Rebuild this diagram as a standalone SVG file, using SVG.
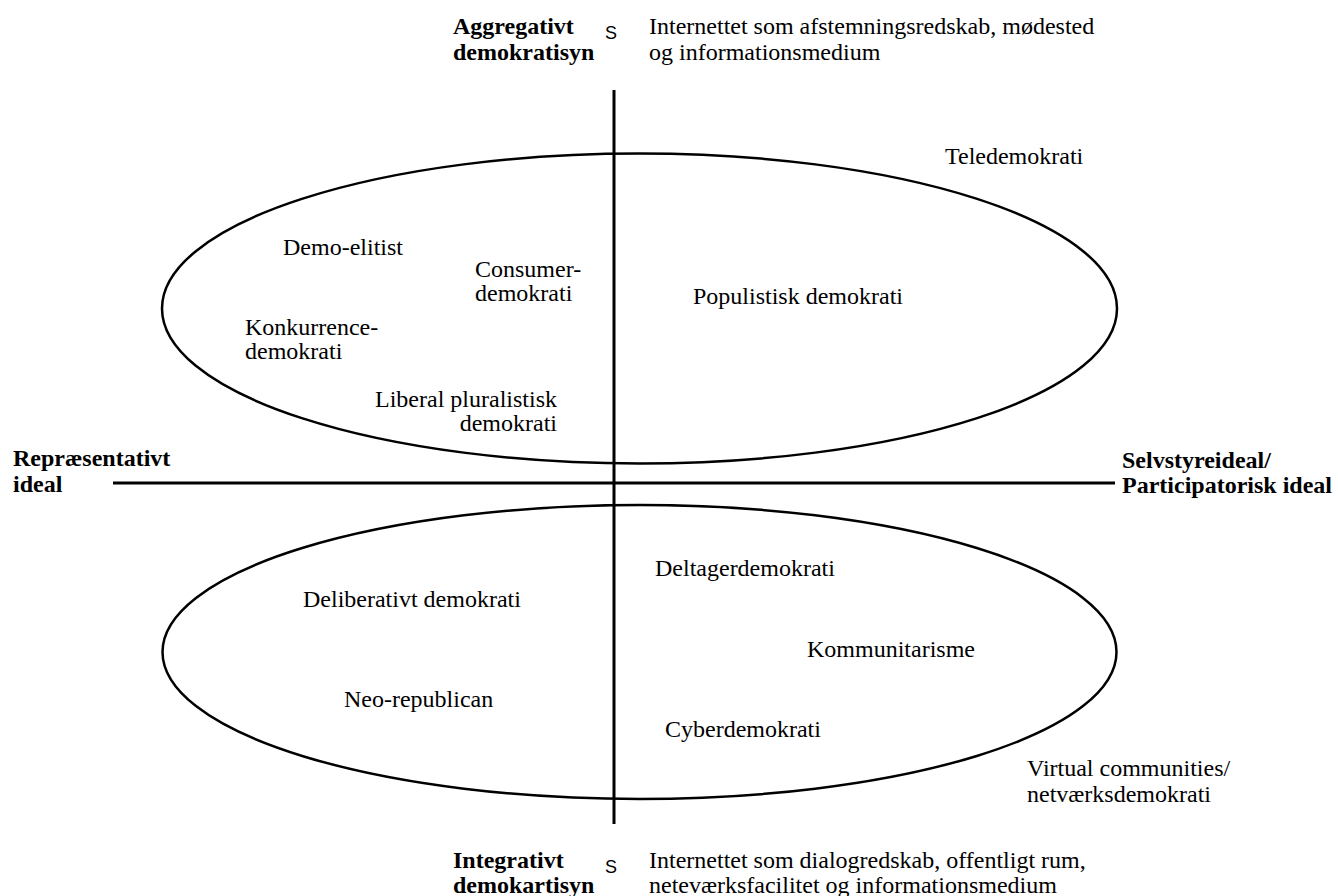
<svg xmlns="http://www.w3.org/2000/svg" width="1338" height="896" viewBox="0 0 1338 896">
<style>
.t{font-family:"Liberation Serif","Times New Roman",serif;font-size:24px;fill:#000}
.b{font-family:"Liberation Serif","Times New Roman",serif;font-size:24px;font-weight:bold;fill:#000}
.s{font-family:"Liberation Sans",Arial,sans-serif;font-size:18px;fill:#000}
.el{fill:none;stroke:#000;stroke-width:2.5}
.ax{stroke:#000;stroke-width:3;fill:none}
</style>
<rect width="1338" height="896" fill="#fff"/>
<g id="ellipse-top"><ellipse class="el" cx="639.5" cy="308.5" rx="477.5" ry="155"/></g>
<g id="ellipse-bottom"><ellipse class="el" cx="639.5" cy="652" rx="477" ry="147"/></g>
<g id="connectors">
<line class="ax" x1="614" y1="90" x2="614" y2="824"/>
<line class="ax" x1="113" y1="483" x2="1115" y2="483"/>
</g>
<g id="top-label">
<text class="b" x="453" y="34">Aggregativt</text>
<text class="b" x="453" y="60">demokratisyn</text>
<text class="s" x="611" y="39" text-anchor="middle">S</text>
<text class="t" x="649" y="34">Internettet som afstemningsredskab, mødested</text>
<text class="t" x="649" y="60">og informationsmedium</text>
</g>
<g id="bottom-label">
<text class="b" x="453" y="868">Integrativt</text>
<text class="b" x="453" y="893">demokartisyn</text>
<text class="s" x="611" y="873" text-anchor="middle">S</text>
<text class="t" x="649" y="868">Internettet som dialogredskab, offentligt rum,</text>
<text class="t" x="649" y="893">neteværksfacilitet og informationsmedium</text>
</g>
<g id="left-label">
<text class="b" x="13" y="466">Repræsentativt</text>
<text class="b" x="13" y="492">ideal</text>
</g>
<g id="right-label">
<text class="b" x="1122" y="468">Selvstyreideal/</text>
<text class="b" x="1122" y="493">Participatorisk ideal</text>
</g>
<g id="teledemokrati"><text class="t" x="945" y="164">Teledemokrati</text></g>
<g id="demo-elitist"><text class="t" x="283" y="255">Demo-elitist</text></g>
<g id="consumer"><text class="t" x="475" y="277">Consumer-</text><text class="t" x="475" y="301">demokrati</text></g>
<g id="konkurrence"><text class="t" x="245" y="335">Konkurrence-</text><text class="t" x="245" y="359">demokrati</text></g>
<g id="liberal"><text class="t" x="557" y="407" text-anchor="end">Liberal pluralistisk</text><text class="t" x="557" y="431" text-anchor="end">demokrati</text></g>
<g id="populistisk"><text class="t" x="693" y="304">Populistisk demokrati</text></g>
<g id="deliberativt"><text class="t" x="303" y="607">Deliberativt demokrati</text></g>
<g id="neo-republican"><text class="t" x="344" y="707">Neo-republican</text></g>
<g id="deltager"><text class="t" x="655" y="576">Deltagerdemokrati</text></g>
<g id="kommunitarisme"><text class="t" x="807" y="657">Kommunitarisme</text></g>
<g id="cyber"><text class="t" x="665" y="737">Cyberdemokrati</text></g>
<g id="virtual"><text class="t" x="1027" y="776">Virtual communities/</text><text class="t" x="1027" y="802">netværksdemokrati</text></g>
</svg>
